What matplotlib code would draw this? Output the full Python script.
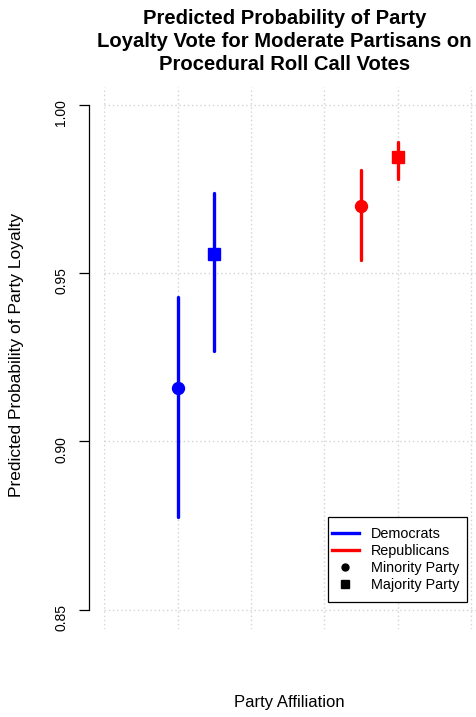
import matplotlib
matplotlib.use("Agg")
import matplotlib.pyplot as plt
from matplotlib.lines import Line2D
from matplotlib.patches import Rectangle

plt.rcParams['font.family'] = ['Liberation Sans', 'DejaVu Sans']

# predicted probabilities and interval bounds
parties = ['Democrats', 'Democrats', 'Republicans', 'Republicans']
status = ['Minority', 'Majority', 'Minority', 'Majority']
est = [0.9158, 0.9557, 0.9699, 0.9846]
lower = [0.8775, 0.9268, 0.9539, 0.9779]
upper = [0.9429, 0.9739, 0.9806, 0.9890]
yticks = [0.85, 0.90, 0.95, 1.00]

party_col = {'Democrats': 'blue', 'Republicans': 'red'}
party_base = {'Democrats': 1.0, 'Republicans': 3.5}
status_off = {'Minority': 0.0, 'Majority': 0.5}
status_mk = {'Minority': 'o', 'Majority': 's'}

fig = plt.figure(figsize=(4.77, 7.17), dpi=100)
ax = fig.add_axes([0.2187, 0.1227, 0.7813, 0.756])

# dotted grid like R's grid()
for gx in range(0, 6):
    ax.axvline(gx, color='lightgray', ls=(0, (1, 2)), lw=1, zorder=0)
for gy in yticks:
    ax.axhline(gy, color='lightgray', ls=(0, (1, 2)), lw=1, zorder=0)

for p, s, e, lo, hi in zip(parties, status, est, lower, upper):
    x = party_base[p] + status_off[s]
    c = party_col[p]
    ax.plot([x, x], [lo, hi], color=c, lw=2.4, solid_capstyle='round', zorder=2)
    ax.plot(x, e, marker=status_mk[s], color=c, ms=8.6, ls='none', zorder=3)

ax.set_xlim(0, 5.078)
ax.set_ylim(0.8442, 1.0053)
ax.set_xticks([])
ax.set_yticks(yticks)
ax.set_yticklabels(['%.2f' % v for v in yticks], fontsize=11.7)
ax.tick_params(axis='y', length=7.2, width=0.9, pad=8, labelrotation=90)
for lab in ax.get_yticklabels():
    lab.set_va('center')
    lab.set_ha('right')
for sp in ['top', 'right', 'bottom']:
    ax.spines[sp].set_visible(False)
ax.spines['left'].set_position(('outward', 10.8))
ax.spines['left'].set_bounds(0.85, 1.00)
ax.spines['left'].set_linewidth(0.9)

fig.text(0.034, 1 - 355.4 / 717, 'Predicted Probability of Party Loyalty', rotation=90,
         ha='center', va='center', fontsize=12.5)
fig.text(0.606, 1 - 703 / 717, 'Party Affiliation', ha='center', va='center', fontsize=12)
fig.text(0.5964, 1 - 9 / 717,
         'Predicted Probability of Party\nLoyalty Vote for Moderate Partisans on\nProcedural Roll Call Votes',
         ha='center', va='top', fontsize=14.6, fontweight='bold', linespacing=1.28)

# legend box drawn separately (R-style padding)
ax.add_patch(Rectangle((0.600, 0.0498), 0.373, 0.1568, transform=ax.transAxes,
                       fill=True, facecolor='white', edgecolor='black', lw=0.9, zorder=4))
handles = [
    Line2D([], [], color='blue', lw=2.4),
    Line2D([], [], color='red', lw=2.4),
    Line2D([], [], color='black', marker='o', ls='none', ms=5),
    Line2D([], [], color='black', marker='s', ls='none', ms=5.5),
]
labels = ['Democrats', 'Republicans', 'Minority Party', 'Majority Party']
leg = ax.legend(handles, labels, loc='center left', bbox_to_anchor=(0.602, 0.1282),
                fontsize=10.4, frameon=False, borderaxespad=0,
                handlelength=1.9, handletextpad=0.85, labelspacing=0.19,
                borderpad=0.2)
leg.set_zorder(5)

fig.savefig('out.png', dpi=100)
